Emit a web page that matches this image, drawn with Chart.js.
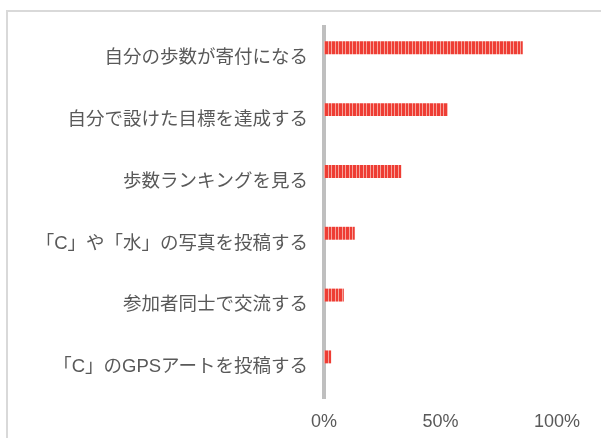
<!DOCTYPE html>
<html>
<head>
<meta charset="utf-8">
<script src="https://cdn.jsdelivr.net/npm/chart.js@4"></script>
<style>
  html, body { margin: 0; padding: 0; background: #fff; }
</style>
</head>
<body>
<canvas id="chart" width="601" height="438"></canvas>
<script>
const categories = [
    "自分の歩数が寄付になる",
    "自分で設けた目標を達成する",
    "歩数ランキングを見る",
    "「C」や「水」の写真を投稿する",
    "参加者同士で交流する",
    "「C」のGPSアートを投稿する"
];
const shares = [0.853, 0.531, 0.332, 0.132, 0.085, 0.031];
const spacer = [0, 0, 0, 0, 0, 0];
const x_ticks = [0, 0.5, 1];

// vertical stripes for the bars
const make_stripes = () => {
    var c = document.createElement("canvas");
    c.width = 7;
    c.height = 1;
    var g = c.getContext("2d");
    var cols = ["#ee3d34", "#ee3d34", "#f6a29b", "#ee3d34", "#ee3d34", "#ee3d34", "#f6a29b"];
    cols.forEach((col, i) => {
        g.fillStyle = col;
        g.fillRect(i, 0, 1, 1);
    });
    return c;
}

const frame = {
    id: "frame",
    beforeDraw(chart) {
        var ctx = chart.ctx;
        ctx.save();
        ctx.strokeStyle = "#d9d9d9";
        ctx.lineWidth = 2;
        ctx.strokeRect(7, 11, 700, 500);
        ctx.restore();
    }
};

var ctx = document.getElementById("chart").getContext("2d");
var stripes = ctx.createPattern(make_stripes(), "repeat");

const font_family = "'Liberation Sans', Arial, 'Noto Sans CJK JP', sans-serif";

var chart = new Chart(ctx, {
    type: "bar",
    data: {
        labels: categories,
        datasets: [{
            data: shares,
            backgroundColor: stripes,
            borderWidth: 0,
            categoryPercentage: 0.66,
            barPercentage: 0.633
        }, {
            data: spacer,
            backgroundColor: "rgba(0,0,0,0)",
            borderWidth: 0,
            categoryPercentage: 0.66,
            barPercentage: 0.633
        }]
    },
    options: {
        indexAxis: "y",
        responsive: false,
        devicePixelRatio: 1,
        animation: false,
        layout: { padding: { top: 24.5, right: 44, bottom: 0, left: 0 } },
        plugins: {
            legend: { display: false },
            tooltip: { enabled: false }
        },
        scales: {
            x: {
                min: 0,
                max: 1,
                afterFit: (scale) => { scale.height = 40; },
                afterBuildTicks: (scale) => { scale.ticks = x_ticks.map(v => ({ value: v })); },
                grid: { display: false, drawTicks: false },
                border: { display: false },
                ticks: {
                    padding: 13,
                    color: "#595959",
                    font: { family: font_family, size: 18 },
                    callback: (v) => Math.round(v * 100) + "%"
                }
            },
            y: {
                z: 1,
                afterFit: (scale) => { scale.width = 324; },
                grid: { display: false, drawTicks: false },
                border: { display: true, color: "#bfbfbf", width: 4 },
                ticks: {
                    padding: 16,
                    color: "#595959",
                    font: { family: font_family, size: 18.5 }
                }
            }
        }
    },
    plugins: [frame]
});
</script>
</body>
</html>
